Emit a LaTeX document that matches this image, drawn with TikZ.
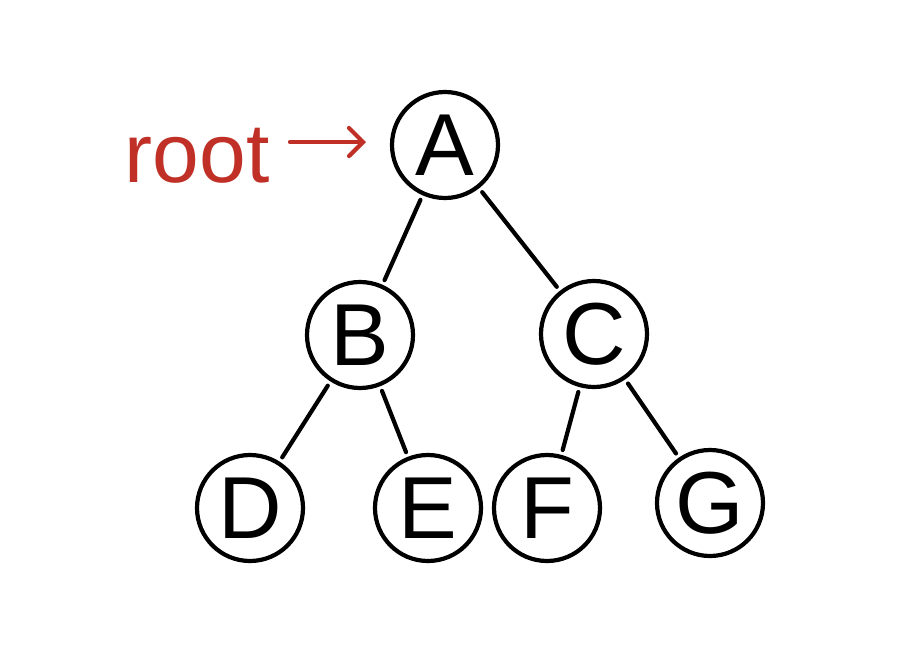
\documentclass[tikz,border=0pt]{standalone}
\usepackage{fontspec}
\setmainfont{Liberation Sans}
\usetikzlibrary{arrows.meta}
\definecolor{rootred}{RGB}{192,48,38}
\begin{document}
\begin{tikzpicture}[x=1pt,y=-1pt,
  vtx/.style={circle,draw=black,line width=4.2pt,minimum size=106pt,inner sep=0pt,
    font=\fontsize{88}{88}\selectfont},
  edge/.style={draw=black,line width=4.2pt,line cap=round,shorten <=5pt,shorten >=5pt}]
\fill[white] (0,0) rectangle (921,670);
\useasboundingbox (0,0) rectangle (921,670);
\node[vtx] (A) at (445,145) {A};
\node[vtx] (B) at (360,335) {B};
\node[vtx] (C) at (594,334) {C};
\node[vtx] (D) at (250,508) {D};
\node[vtx] (E) at (428,508) {E};
\node[vtx] (F) at (547,508) {F};
\node[vtx] (G) at (710,503) {G};
\draw[edge] (A) -- (B);
\draw[edge] (A) -- (C);
\draw[edge] (B) -- (D);
\draw[edge] (B) -- (E);
\draw[edge] (C) -- (F);
\draw[edge] (C) -- (G);
\node[text=rootred,font=\fontsize{84}{84}\selectfont,anchor=base] (root) at (197,182) {root};
\coordinate (rs) at (290,142);
\coordinate (re) at (366,142);
\draw[rootred,line width=4.2pt,line cap=round,-{Straight Barb[length=14pt,width=28pt,line cap=round]}] (rs) -- (re);
\end{tikzpicture}
\end{document}
